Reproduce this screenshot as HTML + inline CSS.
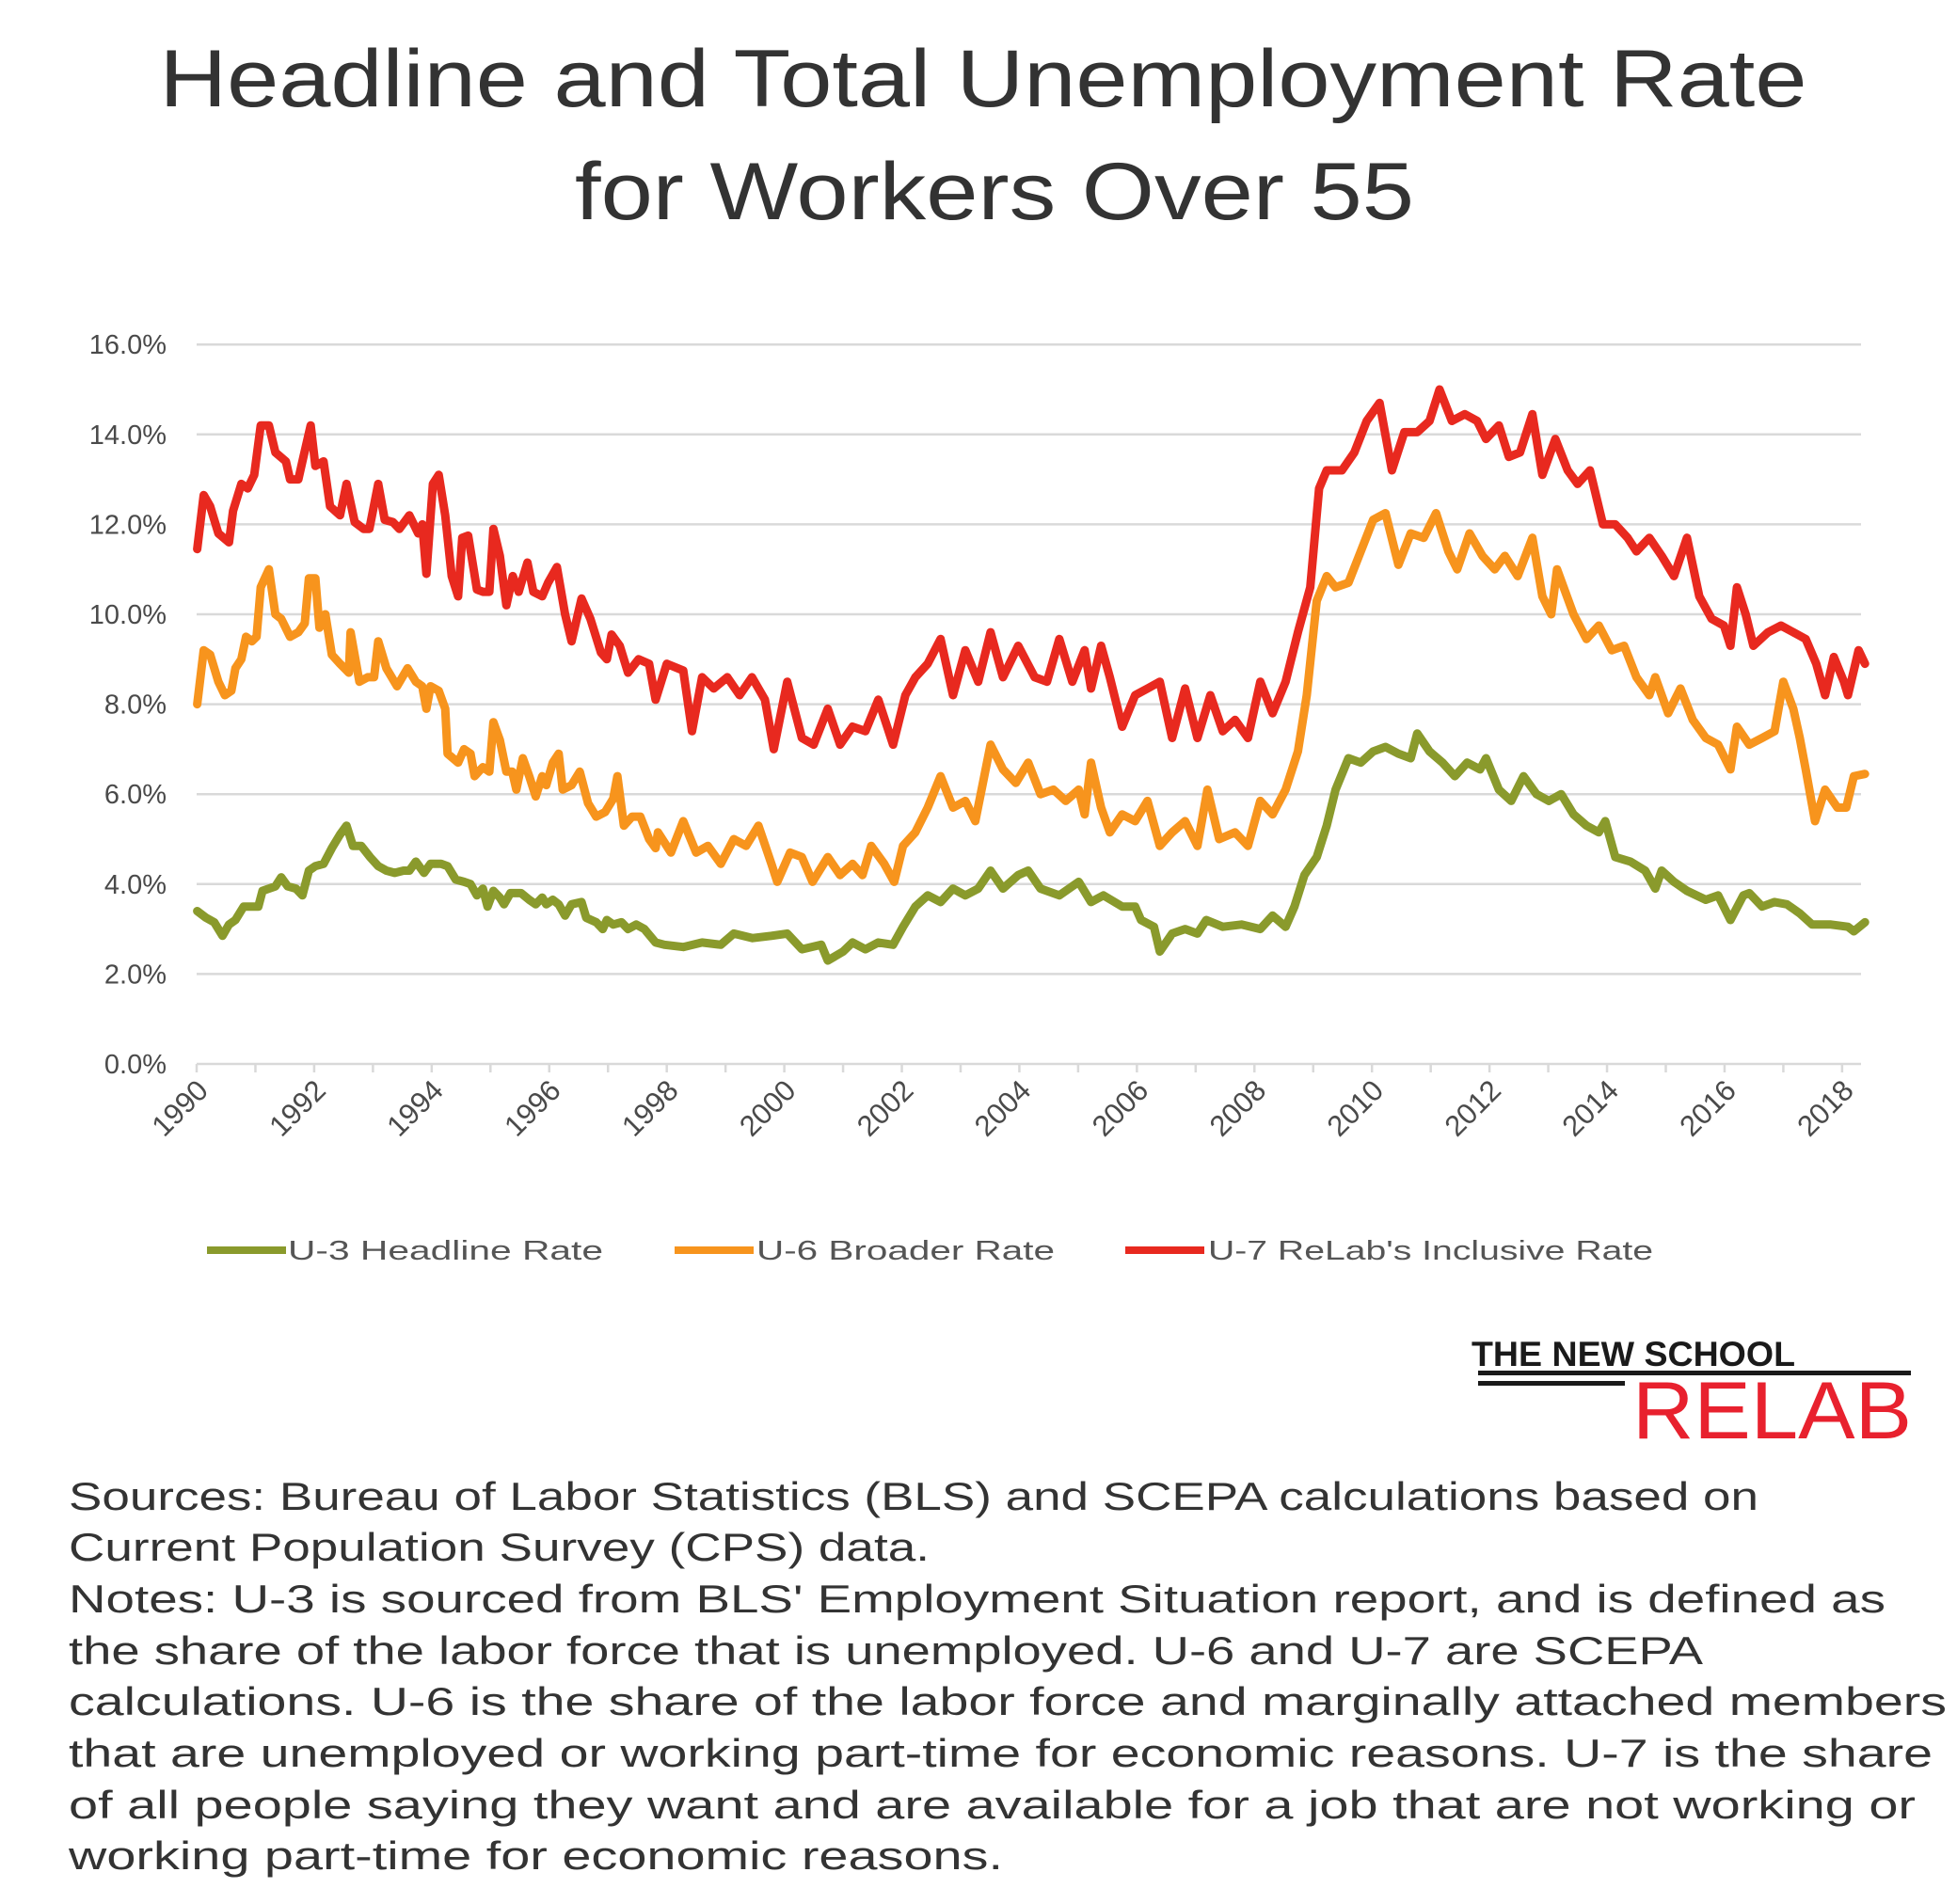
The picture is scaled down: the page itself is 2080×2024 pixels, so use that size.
<!DOCTYPE html>
<html><head><meta charset="utf-8"><style>
html,body{margin:0;padding:0;background:#fff;}
svg{display:block;font-family:"Liberation Sans",sans-serif;}
</style></head>
<body>
<svg id="chart" width="2080" height="2024" viewBox="0 0 2080 2024" xmlns="http://www.w3.org/2000/svg">
<rect width="2080" height="2024" fill="#fff"/>
<g fill="#333" font-size="86" text-anchor="middle">
<text x="1045" y="113" textLength="1751" lengthAdjust="spacingAndGlyphs">Headline and Total Unemployment Rate</text>
<text x="1057" y="233" textLength="892" lengthAdjust="spacingAndGlyphs">for Workers Over 55</text>
</g>
<g id="grid"></g>
<g id="yaxis"></g>
<g id="xaxis"></g>
<g id="series"></g>
<g font-size="29" fill="#555">
<g><line x1="220" y1="1329" x2="304" y2="1329" stroke="#8a9a2c" stroke-width="8"/><text x="306" y="1339" textLength="335" lengthAdjust="spacingAndGlyphs">U-3 Headline Rate</text></g>
<g><line x1="717" y1="1329" x2="801" y2="1329" stroke="#f7941d" stroke-width="8"/><text x="804" y="1339" textLength="317" lengthAdjust="spacingAndGlyphs">U-6 Broader Rate</text></g>
<g><line x1="1196" y1="1329" x2="1280" y2="1329" stroke="#e8291f" stroke-width="8"/><text x="1284" y="1339" textLength="473" lengthAdjust="spacingAndGlyphs">U-7 ReLab's Inclusive Rate</text></g>
</g>
<g>
<text x="1564" y="1452" font-size="37" font-weight="bold" fill="#1a1a1a" textLength="344" lengthAdjust="spacingAndGlyphs">THE NEW SCHOOL</text>
<rect x="1571" y="1457" width="460" height="5" fill="#1a1a1a"/>
<rect x="1571" y="1468" width="156" height="5" fill="#1a1a1a"/>
<text x="1735" y="1529" font-size="86" fill="#e8212e" textLength="297" lengthAdjust="spacingAndGlyphs">RELAB</text>
</g>
<g font-size="42" fill="#333">
<text x="73" y="1605" textLength="1796" lengthAdjust="spacingAndGlyphs">Sources: Bureau of Labor Statistics (BLS) and SCEPA calculations based on</text>
<text x="73" y="1659" textLength="915" lengthAdjust="spacingAndGlyphs">Current Population Survey (CPS) data.</text>
<text x="73" y="1714" textLength="1931" lengthAdjust="spacingAndGlyphs">Notes: U-3 is sourced from BLS' Employment Situation report, and is defined as</text>
<text x="73" y="1769" textLength="1737" lengthAdjust="spacingAndGlyphs">the share of the labor force that is unemployed. U-6 and U-7 are SCEPA</text>
<text x="73" y="1823" textLength="1996" lengthAdjust="spacingAndGlyphs">calculations. U-6 is the share of the labor force and marginally attached members</text>
<text x="73" y="1878" textLength="1981" lengthAdjust="spacingAndGlyphs">that are unemployed or working part-time for economic reasons. U-7 is the share</text>
<text x="73" y="1933" textLength="1963" lengthAdjust="spacingAndGlyphs">of all people saying they want and are available for a job that are not working or</text>
<text x="73" y="1987" textLength="993" lengthAdjust="spacingAndGlyphs">working part-time for economic reasons.</text>
</g>
</svg>
<script>
const yTicks = [0, 2, 4, 6, 8, 10, 12, 14, 16];
const xLabelYears = [1990,1992,1994,1996,1998,2000,2002,2004,2006,2008,2010,2012,2014,2016,2018];

const u7Years = [1990.01,1990.12,1990.23,1990.37,1990.55,1990.62,1990.76,1990.87,1990.98,1991.09,1991.23,1991.34,1991.52,1991.59,1991.73,1991.80,1991.94,1992.02,1992.16,1992.27,1992.44,1992.55,1992.69,1992.84,1992.94,1993.09,1993.20,1993.34,1993.45,1993.62,1993.77,1993.84,1993.91,1994.02,1994.12,1994.23,1994.34,1994.45,1994.52,1994.62,1994.77,1994.87,1994.98,1995.05,1995.16,1995.27,1995.38,1995.48,1995.63,1995.73,1995.88,1995.98,1996.13,1996.27,1996.38,1996.55,1996.70,1996.88,1996.98,1997.06,1997.20,1997.34,1997.52,1997.70,1997.81,1998.0,1998.28,1998.43,1998.6,1998.8,1999.03,1999.24,1999.45,1999.67,1999.82,2000.05,2000.3,2000.5,2000.74,2000.95,2001.16,2001.38,2001.6,2001.85,2002.06,2002.23,2002.44,2002.66,2002.87,2003.08,2003.3,2003.51,2003.72,2003.98,2004.26,2004.47,2004.68,2004.9,2005.11,2005.22,2005.39,2005.54,2005.75,2005.97,2006.18,2006.39,2006.6,2006.82,2007.03,2007.25,2007.46,2007.67,2007.89,2008.1,2008.31,2008.53,2008.74,2008.95,2009.1,2009.23,2009.49,2009.7,2009.91,2010.13,2010.34,2010.55,2010.77,2010.98,2011.15,2011.36,2011.58,2011.79,2011.94,2012.16,2012.33,2012.52,2012.73,2012.9,2013.12,2013.33,2013.5,2013.71,2013.93,2014.14,2014.35,2014.5,2014.72,2014.93,2015.14,2015.36,2015.57,2015.78,2015.99,2016.1,2016.21,2016.36,2016.49,2016.74,2016.96,2017.17,2017.38,2017.56,2017.71,2017.86,2018.03,2018.1,2018.28,2018.39];
const u7Values = [11.45,12.65,12.4,11.8,11.6,12.3,12.9,12.8,13.1,14.2,14.2,13.6,13.4,13.0,13.0,13.4,14.2,13.3,13.4,12.4,12.2,12.9,12.05,11.9,11.9,12.9,12.1,12.05,11.9,12.2,11.8,12.0,10.9,12.9,13.1,12.2,10.85,10.4,11.7,11.75,10.55,10.5,10.5,11.9,11.3,10.2,10.85,10.5,11.15,10.5,10.4,10.7,11.05,10.0,9.4,10.35,9.9,9.15,9.0,9.55,9.3,8.7,9.0,8.9,8.1,8.9,8.75,7.4,8.6,8.35,8.6,8.2,8.6,8.1,7.0,8.5,7.25,7.1,7.9,7.1,7.5,7.4,8.1,7.1,8.2,8.6,8.9,9.45,8.2,9.2,8.5,9.6,8.6,9.3,8.6,8.5,9.45,8.5,9.2,8.35,9.3,8.6,7.5,8.2,8.35,8.5,7.25,8.35,7.25,8.2,7.4,7.65,7.25,8.5,7.8,8.5,9.6,10.6,12.8,13.2,13.2,13.6,14.3,14.7,13.2,14.05,14.05,14.3,15.0,14.3,14.45,14.3,13.9,14.2,13.5,13.6,14.45,13.1,13.9,13.2,12.9,13.2,12.0,12.0,11.7,11.4,11.7,11.3,10.85,11.7,10.4,9.9,9.75,9.3,10.6,10.0,9.3,9.6,9.75,9.6,9.45,8.9,8.2,9.05,8.5,8.2,9.2,8.9];

const u6Years = [1990.01,1990.12,1990.23,1990.37,1990.48,1990.59,1990.66,1990.76,1990.84,1990.94,1991.02,1991.09,1991.23,1991.34,1991.44,1991.59,1991.73,1991.84,1991.91,1992.02,1992.09,1992.19,1992.30,1992.44,1992.59,1992.62,1992.77,1992.91,1993.02,1993.09,1993.23,1993.41,1993.59,1993.73,1993.84,1993.91,1993.98,1994.12,1994.23,1994.27,1994.45,1994.55,1994.66,1994.73,1994.87,1994.98,1995.05,1995.16,1995.27,1995.37,1995.44,1995.55,1995.66,1995.77,1995.88,1995.95,1996.06,1996.16,1996.23,1996.38,1996.52,1996.66,1996.80,1996.95,1997.09,1997.16,1997.27,1997.41,1997.55,1997.70,1997.81,1997.85,1998.07,1998.28,1998.5,1998.7,1998.92,1999.14,1999.35,1999.56,1999.78,1999.88,2000.1,2000.3,2000.48,2000.74,2000.95,2001.16,2001.33,2001.48,2001.7,2001.87,2002.02,2002.23,2002.44,2002.66,2002.87,2003.08,2003.25,2003.51,2003.72,2003.94,2004.15,2004.36,2004.58,2004.79,2005.01,2005.11,2005.22,2005.39,2005.54,2005.75,2005.97,2006.18,2006.39,2006.6,2006.82,2007.03,2007.2,2007.4,2007.67,2007.89,2008.1,2008.31,2008.53,2008.74,2008.89,2009.06,2009.23,2009.38,2009.6,2009.81,2010.02,2010.23,2010.45,2010.66,2010.88,2011.09,2011.3,2011.45,2011.66,2011.88,2012.09,2012.26,2012.48,2012.73,2012.9,2013.05,2013.15,2013.43,2013.65,2013.86,2014.08,2014.29,2014.5,2014.72,2014.82,2015.04,2015.25,2015.46,2015.68,2015.89,2016.1,2016.21,2016.42,2016.64,2016.85,2017.0,2017.17,2017.28,2017.38,2017.54,2017.71,2017.92,2018.07,2018.2,2018.39];
const u6Values = [8.0,9.2,9.1,8.5,8.2,8.3,8.8,9.0,9.5,9.4,9.5,10.6,11.0,10.0,9.9,9.5,9.6,9.8,10.8,10.8,9.7,10.0,9.1,8.9,8.7,9.6,8.5,8.6,8.6,9.4,8.8,8.4,8.8,8.5,8.4,7.9,8.4,8.3,7.9,6.9,6.7,7.0,6.9,6.4,6.6,6.5,7.6,7.2,6.5,6.5,6.1,6.8,6.4,5.95,6.4,6.2,6.7,6.9,6.1,6.2,6.5,5.8,5.5,5.6,5.9,6.4,5.3,5.5,5.5,5.0,4.8,5.15,4.7,5.4,4.7,4.85,4.45,5.0,4.85,5.3,4.45,4.05,4.7,4.6,4.05,4.6,4.2,4.45,4.2,4.85,4.45,4.05,4.85,5.15,5.7,6.4,5.7,5.85,5.4,7.1,6.55,6.25,6.7,6.0,6.1,5.85,6.1,5.55,6.7,5.7,5.15,5.55,5.4,5.85,4.85,5.15,5.4,4.85,6.1,5.0,5.15,4.85,5.85,5.55,6.1,6.95,8.2,10.3,10.85,10.6,10.7,11.4,12.1,12.25,11.1,11.8,11.7,12.25,11.4,11.0,11.8,11.3,11.0,11.3,10.85,11.7,10.4,10.0,11.0,10.0,9.45,9.75,9.2,9.3,8.6,8.2,8.6,7.8,8.35,7.65,7.25,7.1,6.55,7.5,7.1,7.25,7.4,8.5,7.9,7.25,6.55,5.4,6.1,5.7,5.7,6.4,6.45];

const u3Years = [1990.01,1990.16,1990.30,1990.44,1990.55,1990.66,1990.80,1990.94,1991.05,1991.12,1991.23,1991.34,1991.44,1991.55,1991.69,1991.80,1991.91,1992.02,1992.16,1992.30,1992.44,1992.55,1992.66,1992.80,1992.95,1993.09,1993.23,1993.37,1993.52,1993.62,1993.73,1993.87,1993.98,1994.16,1994.27,1994.41,1994.55,1994.66,1994.77,1994.87,1994.95,1995.05,1995.16,1995.23,1995.34,1995.52,1995.66,1995.77,1995.88,1995.95,1996.06,1996.16,1996.27,1996.38,1996.55,1996.63,1996.80,1996.91,1996.98,1997.09,1997.23,1997.34,1997.48,1997.62,1997.81,1997.96,1998.28,1998.6,1998.92,1999.14,1999.46,1999.78,2000.05,2000.3,2000.63,2000.74,2001.0,2001.16,2001.38,2001.6,2001.85,2002.02,2002.23,2002.44,2002.66,2002.87,2003.08,2003.3,2003.51,2003.72,2003.98,2004.15,2004.36,2004.68,2005.01,2005.22,2005.43,2005.75,2005.97,2006.07,2006.29,2006.39,2006.6,2006.82,2007.03,2007.18,2007.46,2007.78,2008.1,2008.31,2008.53,2008.68,2008.85,2009.06,2009.23,2009.38,2009.6,2009.81,2010.02,2010.23,2010.45,2010.66,2010.77,2010.98,2011.2,2011.41,2011.62,2011.84,2011.94,2012.16,2012.37,2012.58,2012.8,2013.01,2013.22,2013.43,2013.65,2013.86,2013.97,2014.14,2014.4,2014.65,2014.82,2014.93,2015.14,2015.36,2015.68,2015.89,2016.1,2016.32,2016.42,2016.64,2016.85,2017.06,2017.28,2017.49,2017.81,2018.1,2018.2,2018.39];
const u3Values = [3.4,3.25,3.15,2.85,3.1,3.2,3.5,3.5,3.5,3.85,3.9,3.95,4.15,3.95,3.9,3.75,4.3,4.4,4.45,4.8,5.1,5.3,4.85,4.85,4.6,4.4,4.3,4.25,4.3,4.3,4.5,4.25,4.45,4.45,4.4,4.1,4.05,4.0,3.75,3.9,3.5,3.85,3.7,3.55,3.8,3.8,3.65,3.55,3.7,3.55,3.65,3.55,3.3,3.55,3.6,3.25,3.15,3.0,3.2,3.1,3.15,3.0,3.1,3.0,2.7,2.65,2.6,2.7,2.65,2.9,2.8,2.85,2.9,2.55,2.65,2.3,2.5,2.7,2.55,2.7,2.65,3.05,3.5,3.75,3.6,3.9,3.75,3.9,4.3,3.9,4.2,4.3,3.9,3.75,4.05,3.6,3.75,3.5,3.5,3.2,3.05,2.5,2.9,3.0,2.9,3.2,3.05,3.1,3.0,3.3,3.05,3.5,4.2,4.6,5.3,6.1,6.8,6.7,6.95,7.05,6.9,6.8,7.35,6.95,6.7,6.4,6.7,6.55,6.8,6.1,5.85,6.4,6.0,5.85,6.0,5.55,5.3,5.15,5.4,4.6,4.5,4.3,3.9,4.3,4.05,3.85,3.65,3.75,3.2,3.75,3.8,3.5,3.6,3.55,3.35,3.1,3.1,3.05,2.95,3.15];

const NS = 'http://www.w3.org/2000/svg';
const X0 = 209, PX_PER_YEAR = 62.46, Y0 = 1131, PX_PER_PCT = 47.8;
function xOf(yr){ return X0 + (yr - 1990) * PX_PER_YEAR; }
function yOf(v){ return Y0 - v * PX_PER_PCT; }
function mk(tag, attrs){ const e = document.createElementNS(NS, tag); for (const k in attrs) e.setAttribute(k, attrs[k]); return e; }

const grid = document.getElementById('grid');
const yaxis = document.getElementById('yaxis');
yTicks.forEach(function(t){
  const ln = mk('line', {x1: 209, x2: 1978, y1: yOf(t), y2: yOf(t), stroke: '#d9d9d9', 'stroke-width': 2.5});
  
  
  grid.appendChild(ln);
  const tx = mk('text', {x: 177, y: yOf(t) + 10, 'text-anchor': 'end', 'font-size': 29, fill: '#4a4a4a'});
  tx.textContent = t.toFixed(1) + '%';
  
  
  yaxis.appendChild(tx);
});

const xaxis = document.getElementById('xaxis');
for (let yr = 1990; yr <= 2018; yr++) {
  const tk = mk('line', {x1: xOf(yr), x2: xOf(yr), y1: Y0, y2: Y0 + 9, stroke: '#d9d9d9', 'stroke-width': 2.5});
  
  
  xaxis.appendChild(tk);
}
xLabelYears.forEach(function(yr){
  const ax = xOf(yr) + 14, ay = Y0 + 30;
  const tx = mk('text', {x: ax, y: ay, 'text-anchor': 'end', 'font-size': 31, fill: '#4a4a4a', transform: 'rotate(-45 ' + ax + ' ' + ay + ')'});
  tx.textContent = yr;
  
  
  xaxis.appendChild(tx);
});

const series = document.getElementById('series');
function drawLine(years, values, color, name){
  let d = '';
  for (let i = 0; i < years.length; i++) d += (i ? 'L' : 'M') + xOf(years[i]).toFixed(1) + ',' + yOf(values[i]).toFixed(1);
  const p = mk('path', {d: d, fill: 'none', stroke: color, 'stroke-width': 9, 'stroke-linejoin': 'round', 'stroke-linecap': 'round'});
  
  
  series.appendChild(p);
}
drawLine(u3Years, u3Values, '#8a9a2c', 'u3-line');
drawLine(u6Years, u6Values, '#f7941d', 'u6-line');
drawLine(u7Years, u7Values, '#e8291f', 'u7-line');
</script>
</body></html>
